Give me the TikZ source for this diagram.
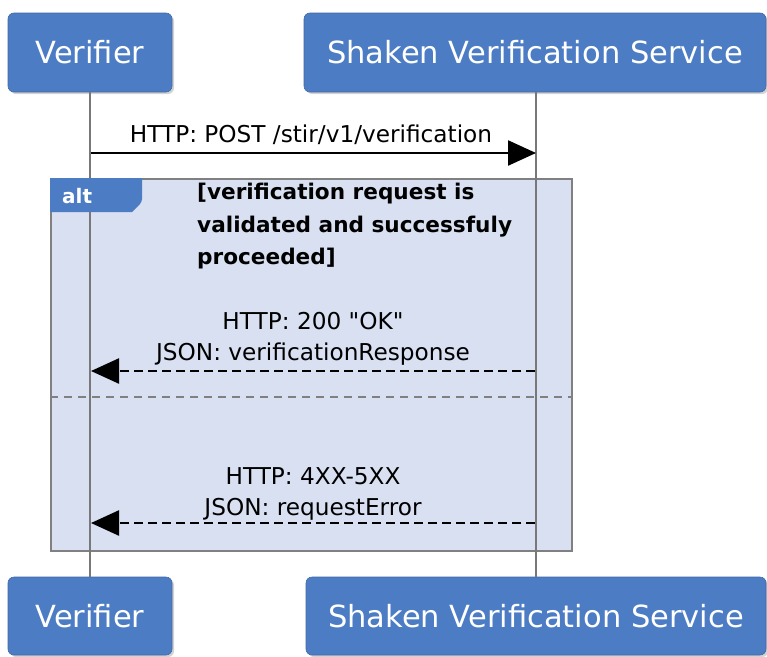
\documentclass[tikz,border=0pt]{standalone}
\usepackage{fontspec}
\setmainfont{DejaVu Sans}[Ligatures=TeXOff]
\usetikzlibrary{arrows.meta,shadows}
\definecolor{actorblue}{RGB}{76,124,196}
\definecolor{altfill}{RGB}{216,224,241}
\definecolor{framegray}{RGB}{128,128,128}
\definecolor{lifegray}{RGB}{120,120,120}
\tikzset{
  actor/.style={rounded corners=6pt, fill=actorblue, draw=actorblue!85!black, line width=0.6pt,
    text=white, font=\fontsize{30.5}{32}\selectfont, minimum height=79pt, inner sep=0pt,
    drop shadow={opacity=0.35, shadow xshift=2pt, shadow yshift=-2pt}},
  lifeline/.style={draw=lifegray, line width=2pt},
  msg/.style={line width=2.4pt, -{Triangle[length=28pt,width=25pt]}},
  reply/.style={msg, dash pattern=on 9pt off 5pt},
  lbl/.style={font=\fontsize{23.2}{31}\selectfont, align=center, inner sep=0pt},
  guard/.style={font=\bfseries\fontsize{21.6}{32.5}\selectfont, align=left, inner sep=0pt},
}
\begin{document}
\begin{tikzpicture}[x=1pt,y=-1pt]
\useasboundingbox (0,0) rectangle (767,656);
% alt frame
\node[draw=framegray, line width=2pt, fill=altfill, minimum width=521pt, minimum height=372pt, inner sep=0pt] (alt) at (311.5,365) {};
% actors
\node[actor, minimum width=164pt] (vtop) at (90,52.5) {Verifier};
\node[actor, minimum width=462pt] (stop) at (535,52.5) {Shaken Verification Service};
\node[actor, minimum width=164pt, minimum height=78pt] (vbot) at (90,616) {Verifier};
\node[actor, minimum width=460pt, minimum height=78pt] (sbot) at (536,616) {Shaken Verification Service};
% lifelines
\draw[lifeline] (vtop.south) -- (vbot.north);
\draw[lifeline] (vtop.south -| 536,0) coordinate (stl) -- (vbot.north -| 536,0) coordinate (sbl);
% alt tab
\path[fill=actorblue] (alt.north west) -- ++(92,0) [rounded corners=3pt] -- ++(0,24) [sharp corners] -- ++(-10,10) -- ++(-82,0) -- cycle;
\node[text=white, font=\bfseries\fontsize{20}{20}\selectfont, anchor=west, inner sep=0pt] (alttxt) at (62,196) {alt};
\node[guard, anchor=north west] (grd) at (197,183) {[verification request is\\validated and successfuly\\proceeded]};
% separator
\draw[framegray, line width=2pt, dash pattern=on 8pt off 6pt] (alt.west |- 0,397) coordinate (sepl) -- (alt.east |- 0,397) coordinate (sepr);
% messages
\coordinate (v1) at (91,153); \coordinate (s1) at (536,153);
\coordinate (v2) at (91,371); \coordinate (s2) at (535,371);
\coordinate (v3) at (91,523); \coordinate (s3) at (535,523);
\draw[msg] (v1) -- (s1);
\node[lbl] (m1) at (311,135) {HTTP: POST /stir/v1/verification};
\draw[reply] (s2) -- (v2);
\node[lbl] (m2) at (313,339) {HTTP: 200 "OK"\\JSON: verificationResponse};
\draw[reply] (s3) -- (v3);
\node[lbl] (m3) at (313,494) {HTTP: 4XX-5XX\\JSON: requestError};
\end{tikzpicture}
\end{document}
